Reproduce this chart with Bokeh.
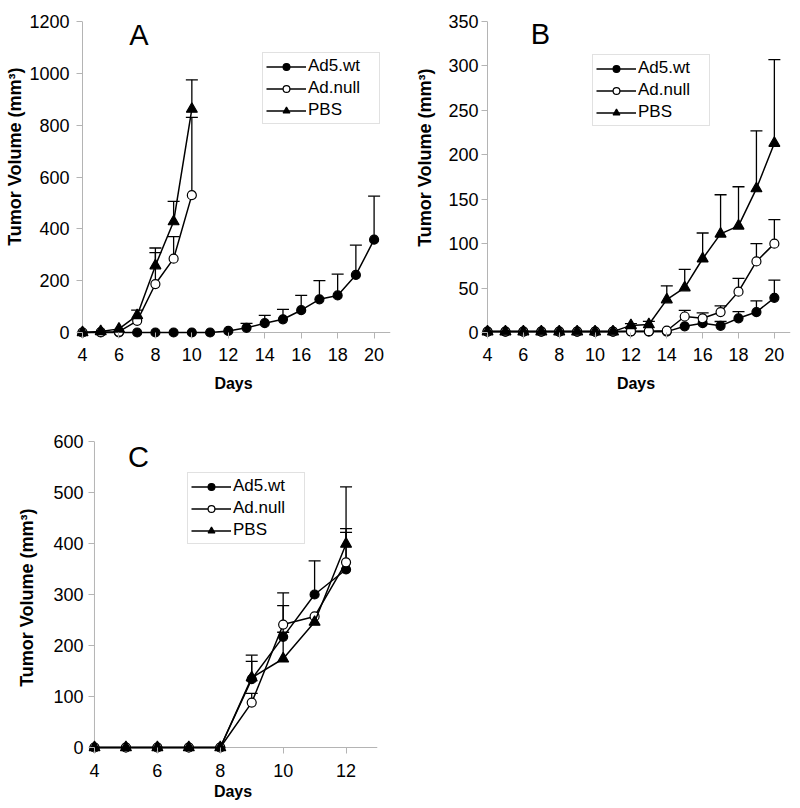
from bokeh.plotting import figure
from bokeh.models import (ColumnDataSource, Whisker, TeeHead, Range1d, FixedTicker,
                          Label, Legend, LegendItem, Title)
from bokeh.layouts import column, row
from bokeh.embed import file_html
from bokeh.resources import INLINE

# ---------------- data ----------------
series_names = ["Ad5.wt", "Ad.null", "PBS"]

# Panel A
a_days_wt = [4, 5, 6, 7, 8, 9, 10, 11, 12, 13, 14, 15, 16, 17, 18, 19, 20]
a_wt = [0, 0, 0, 0, 0, 0, 0, 0, 6, 18, 36, 51, 86, 128, 143, 222, 358]
a_wt_up = [None, None, None, None, None, None, None, None, None, 35, 66, 89, 143, 200, 225, 337, 526]
a_days_ctl = [4, 5, 6, 7, 8, 9, 10]
a_null = [0, 2, 3, 45, 187, 285, 530]
a_null_up = [None, None, None, None, 308, 370, 830]
a_pbs = [0, 4, 14, 66, 258, 428, 862]
a_pbs_up = [None, None, None, 86, 326, 506, 975]

# Panel B
b_days = [4, 5, 6, 7, 8, 9, 10, 11, 12, 13, 14, 15, 16, 17, 18, 19, 20]
b_wt = [1, 1, 1, 1, 1, 1, 1, 1, 1, 1, 1, 7, 10.5, 7.5, 16, 23, 39]
b_wt_up = [None] * 13 + [12.4, 23.5, 35.5, 59]
b_null = [1, 1, 1, 1, 1, 1, 1, 1, 1.5, 1.5, 2, 18, 16, 23, 46, 80, 100]
b_null_up = [None] * 11 + [25, 22, 30, 61, 100, 127]
b_pbs = [1, 1, 1, 1, 1, 1, 1, 1, 8, 9, 37, 50.5, 83, 111, 120, 162, 213]
b_pbs_up = [None] * 8 + [10, 12.5, 52.5, 71, 112, 155, 164, 227, 307]

# Panel C
c_days = [4, 5, 6, 7, 8, 9, 10, 11, 12]
c_wt = [0, 0, 0, 0, 0, 134, 217, 300, 349]
c_wt_up = [None, None, None, None, None, 169, 278, 366, 422]
c_null = [0, 0, 0, 0, 0, 88, 241, 257, 363]
c_null_up = [None, None, None, None, None, 106, 303, None, 429]
c_pbs = [0, 0, 0, 0, 0, 137, 174, 246, 399]
c_pbs_up = [None, None, None, None, None, 181, 226, None, 511]

a_xticks = [4, 6, 8, 10, 12, 14, 16, 18, 20]
a_yticks = [0, 200, 400, 600, 800, 1000, 1200]
b_xticks = [4, 6, 8, 10, 12, 14, 16, 18, 20]
b_yticks = [0, 50, 100, 150, 200, 250, 300, 350]
c_xticks = [4, 6, 8, 10, 12]
c_yticks = [0, 100, 200, 300, 400, 500, 600]

x_title = "Days"
y_title = "Tumor Volume (mm\u00b3)"

FONT = "Liberation Sans"
AXIS_GREY = "#b4b4b4"
PAD = 6


def panel(width, height, ox, oy, ex, ey, xr, yr, xticks, yticks, series, letter,
          letter_pos, legend_pos, tick_standoff_x, label_standoff_x,
          tick_standoff_y, ytitle_offset, ytitle_standoff):
    xmin, xmax = xr
    ymin, ymax = yr
    sx = (ex - ox) / (xmax - xmin)
    sy = (oy - ey) / (ymax - ymin)
    p = figure(width=width, height=height, output_backend="svg", toolbar_location=None,
               x_range=Range1d(xmin - PAD / sx, xmax),
               y_range=Range1d(ymin - PAD / sy, ymax),
               min_border_left=ox - PAD, min_border_right=width - ex,
               min_border_top=ey, min_border_bottom=height - oy - PAD)
    p.outline_line_color = None
    p.grid.visible = False
    p.background_fill_color = "white"
    p.border_fill_color = "white"

    for ax in (p.xaxis[0], p.yaxis[0]):
        ax.axis_line_color = None
        ax.major_tick_line_color = AXIS_GREY
        ax.minor_tick_line_color = None
        ax.major_tick_in = PAD
        ax.major_tick_out = 0
        ax.major_label_text_font = FONT
        ax.major_label_text_font_size = "18px"
        ax.major_label_text_color = "black"
        ax.axis_label_text_font = FONT
        ax.axis_label_text_font_style = "bold"
        ax.axis_label_text_color = "black"
    p.xaxis[0].ticker = FixedTicker(ticks=xticks)
    p.yaxis[0].ticker = FixedTicker(ticks=yticks)
    p.xaxis[0].axis_label = x_title
    p.xaxis[0].axis_label_text_font_size = "16px"
    p.xaxis[0].major_label_standoff = tick_standoff_x
    p.xaxis[0].axis_label_standoff = label_standoff_x
    p.yaxis[0].major_label_standoff = tick_standoff_y

    # y-axis title (sits slightly above the frame centre, as in the original)
    p.add_layout(Title(text=y_title, align="right", offset=ytitle_offset,
                       standoff=ytitle_standoff, text_font=FONT, text_font_size="18px",
                       text_font_style="bold", text_color="black"), "left")

    # axis lines through the origin (drawn inside the frame, under the data)
    p.segment(x0=[xmin, xmin], y0=[ymin, ymin], x1=[xmax, xmin], y1=[ymin, ymax],
              line_color=AXIS_GREY, line_width=1)

    items = []
    for name, days, vals, ups, marker, fill, size in series:
        lr = p.line(days, vals, line_color="black", line_width=1.5)
        wd = [(d, v, u) for d, v, u in zip(days, vals, ups) if u is not None]
        if wd:
            src = ColumnDataSource(dict(x=[w[0] for w in wd], y=[w[1] for w in wd],
                                        up=[w[2] for w in wd]))
            wh = Whisker(source=src, base="x", lower="y", upper="up", dimension="height",
                         line_color="black", line_width=1.3, level="underlay",
                         lower_head=None,
                         upper_head=TeeHead(size=12, line_color="black", line_width=1.3))
            p.add_layout(wh)
        sr = p.scatter(days, vals, marker=marker, size=size, fill_color=fill,
                       line_color="black", line_width=1.2)
        items.append(LegendItem(label=name, renderers=[lr, sr]))

    leg = Legend(items=items, location=legend_pos)
    leg.label_text_font = FONT
    leg.label_text_font_size = "17px"
    leg.label_text_color = "black"
    leg.glyph_width = 40
    leg.glyph_height = 17
    leg.label_height = 17
    leg.label_width = 68
    leg.label_standoff = 2
    leg.spacing = 2
    leg.padding = 3
    leg.margin = 0
    leg.border_line_color = "#c4c4c4"
    leg.border_line_width = 1
    leg.background_fill_color = "white"
    leg.background_fill_alpha = 1.0
    p.add_layout(leg)

    p.add_layout(Label(x=letter_pos[0], y=letter_pos[1], text=letter,
                       text_font=FONT, text_font_size="29px", text_color="black",
                       text_align="center", text_baseline="middle"))
    return p


pA = panel(400, 418, 82, 332, 390, 21, (4, 20.9), (0, 1200), a_xticks, a_yticks,
           [(series_names[0], a_days_wt, a_wt, a_wt_up, "circle", "black", 9),
            (series_names[1], a_days_ctl, a_null, a_null_up, "circle", "white", 9),
            (series_names[2], a_days_ctl, a_pbs, a_pbs_up, "triangle", "black", 11)],
           "A", (7.1, 1146), (186, 214), 9, 11, 7, 46, 4)

pB = panel(400, 418, 87, 332, 390, 21, (4, 20.9), (0, 350), b_xticks, b_yticks,
           [(series_names[0], b_days, b_wt, b_wt_up, "circle", "black", 9),
            (series_names[1], b_days, b_null, b_null_up, "circle", "white", 9),
            (series_names[2], b_days, b_pbs, b_pbs_up, "triangle", "black", 11)],
           "B", (6.95, 336), (111, 212), 9, 11, 3, 47, 21)

pC = panel(400, 388, 93, 329, 377, 23, (4, 13), (0, 600), c_xticks, c_yticks,
           [(series_names[0], c_days, c_wt, c_wt_up, "circle", "black", 9),
            (series_names[1], c_days, c_null, c_null_up, "circle", "white", 9),
            (series_names[2], c_days, c_pbs, c_pbs_up, "triangle", "black", 11)],
           "C", (5.4, 569), (99, 209), 10, 3, 5, 67, 28)

layout = column(row(pA, pB), row(pC))
open("out.html", "w").write(file_html(layout, INLINE))
